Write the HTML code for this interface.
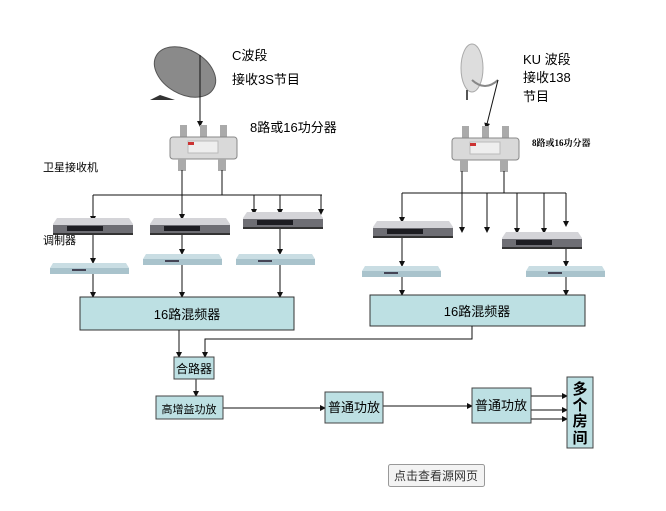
<!DOCTYPE html>
<html><head><meta charset="utf-8"><style>
body{margin:0;background:#fff;}
svg{display:block;font-family:"Liberation Sans","Noto Sans CJK SC",sans-serif;}
</style></head><body>
<svg width="666" height="511" viewBox="0 0 666 511" xmlns="http://www.w3.org/2000/svg">
<defs>
<marker id="a" markerWidth="6" markerHeight="6" refX="5" refY="3" orient="auto" markerUnits="userSpaceOnUse"><path d="M0,0 L6,3 L0,6 z" fill="#111"/></marker>
<g id="rcv">
<path d="M4,0 L76,0 L80,6 L80,16 L0,16 L0,6 z" fill="#d4d4d8"/>
<rect x="0" y="7" width="80" height="8" fill="#6e6e74"/>
<rect x="14" y="8" width="36" height="5" fill="#1d1d22"/>
<rect x="0" y="15" width="80" height="2" fill="#333"/>
</g>
<g id="mod">
<path d="M3,0 L76,0 L79,5 L79,11 L0,11 L0,5 z" fill="#c9dde3"/>
<rect x="0" y="5" width="79" height="6" fill="#a9c3cc"/>
<rect x="22" y="6" width="14" height="2" fill="#445"/>
</g>
<g id="spl">
<rect x="10" y="0" width="7" height="12" fill="#aaa"/><rect x="30" y="0" width="7" height="12" fill="#aaa"/><rect x="50" y="0" width="7" height="12" fill="#aaa"/>
<rect x="0" y="12" width="67" height="22" rx="3" fill="#d9d9d9" stroke="#888"/>
<rect x="18" y="16" width="30" height="12" fill="#eee" stroke="#bbb"/>
<rect x="18" y="17" width="6" height="3" fill="#c33"/>
<rect x="8" y="34" width="8" height="12" fill="#aaa"/><rect x="48" y="34" width="8" height="12" fill="#aaa"/>
</g>
</defs>

<!-- left dish -->
<ellipse cx="185" cy="72" rx="33" ry="22" transform="rotate(30 185 72)" fill="#8a8a8a" stroke="#555"/>
<path d="M160,95 L150,100 L175,100 z" fill="#333"/>
<line x1="200" y1="55" x2="200" y2="126" stroke="#111" marker-end="url(#a)"/>
<use href="#spl" x="170" y="125"/>
<text x="232" y="60" font-size="13">C波段</text>
<text x="232" y="84" font-size="13">接收3S节目</text>
<text x="250" y="132" font-size="13">8路或16功分器</text>
<text x="43" y="171" font-size="11">卫星接收机</text>

<g stroke="#111" fill="none">
<line x1="182" y1="170" x2="182" y2="219" marker-end="url(#a)"/>
<line x1="222" y1="170" x2="222" y2="195"/>
<line x1="93" y1="195" x2="322" y2="195"/>
<line x1="93" y1="195" x2="93" y2="221" marker-end="url(#a)"/>
<line x1="254" y1="195" x2="254" y2="214" marker-end="url(#a)"/>
<line x1="280" y1="195" x2="280" y2="214" marker-end="url(#a)"/>
<line x1="321" y1="195" x2="321" y2="214" marker-end="url(#a)"/>
<line x1="93" y1="232" x2="93" y2="263" marker-end="url(#a)"/>
<line x1="182" y1="230" x2="182" y2="254" marker-end="url(#a)"/>
<line x1="280" y1="226" x2="280" y2="254" marker-end="url(#a)"/>
<line x1="93" y1="274" x2="93" y2="297" marker-end="url(#a)"/>
<line x1="182" y1="265" x2="182" y2="297" marker-end="url(#a)"/>
<line x1="280" y1="265" x2="280" y2="297" marker-end="url(#a)"/>
</g>
<use href="#rcv" x="53" y="218"/>
<use href="#rcv" x="150" y="218"/>
<use href="#rcv" x="243" y="212"/>
<use href="#mod" x="50" y="263"/>
<use href="#mod" x="143" y="254"/>
<use href="#mod" x="236" y="254"/>
<text x="43" y="244" font-size="11">调制器</text>
<rect x="80" y="297" width="214" height="33" fill="#bde0e3" stroke="#333"/>
<text x="187" y="319" font-size="13" text-anchor="middle">16路混频器</text>

<!-- right dish -->
<ellipse cx="472" cy="68" rx="11" ry="24" fill="#ddd" stroke="#aaa"/>
<path d="M472,80 Q485,92 498,80" stroke="#888" fill="none" stroke-width="2"/>
<line x1="467" y1="90" x2="467" y2="100" stroke="#555" stroke-width="2"/>
<line x1="498" y1="80" x2="486" y2="128" stroke="#111" marker-end="url(#a)"/>
<use href="#spl" x="452" y="126"/>
<text x="523" y="64" font-size="13">KU 波段</text>
<text x="523" y="82" font-size="13">接收138</text>
<text x="523" y="101" font-size="13">节目</text>
<text x="532" y="146" font-size="9" font-weight="bold" font-family="Liberation Serif,'Noto Serif CJK SC',serif">8路或16功分器</text>
<g stroke="#111" fill="none">
<line x1="462" y1="171" x2="462" y2="232" marker-end="url(#a)"/>
<line x1="504" y1="171" x2="504" y2="193"/>
<line x1="402" y1="193" x2="566" y2="193"/>
<line x1="402" y1="193" x2="402" y2="222" marker-end="url(#a)"/>
<line x1="487" y1="193" x2="487" y2="232" marker-end="url(#a)"/>
<line x1="517" y1="193" x2="517" y2="233" marker-end="url(#a)"/>
<line x1="544" y1="193" x2="544" y2="233" marker-end="url(#a)"/>
<line x1="566" y1="193" x2="566" y2="226" marker-end="url(#a)"/>
<line x1="402" y1="237" x2="402" y2="266" marker-end="url(#a)"/>
<line x1="566" y1="248" x2="566" y2="266" marker-end="url(#a)"/>
<line x1="402" y1="277" x2="402" y2="295" marker-end="url(#a)"/>
<line x1="566" y1="277" x2="566" y2="295" marker-end="url(#a)"/>
</g>
<use href="#rcv" x="373" y="221"/>
<use href="#rcv" x="502" y="232"/>
<use href="#mod" x="362" y="266"/>
<use href="#mod" x="526" y="266"/>
<rect x="370" y="295" width="215" height="31" fill="#bde0e3" stroke="#333"/>
<text x="477" y="316" font-size="13" text-anchor="middle">16路混频器</text>

<!-- bottom -->
<g stroke="#111" fill="none">
<line x1="179" y1="330" x2="179" y2="357" marker-end="url(#a)"/>
<polyline points="472,326 472,339 205,339 205,357" marker-end="url(#a)"/>
<line x1="196" y1="379" x2="196" y2="396" marker-end="url(#a)"/>
<line x1="223" y1="408" x2="325" y2="408" marker-end="url(#a)"/>
<line x1="383" y1="406" x2="472" y2="406" marker-end="url(#a)"/>
<line x1="531" y1="396" x2="567" y2="396" marker-end="url(#a)"/>
<line x1="531" y1="410" x2="567" y2="410" marker-end="url(#a)"/>
<line x1="531" y1="419" x2="567" y2="419" marker-end="url(#a)"/>
</g>
<g fill="#bde0e3" stroke="#444">
<rect x="174" y="357" width="40" height="22"/>
<rect x="156" y="396" width="67" height="23"/>
<rect x="325" y="392" width="58" height="31"/>
<rect x="472" y="388" width="59" height="35"/>
<rect x="567" y="377" width="26" height="71"/>
</g>
<text x="194" y="373" font-size="12" text-anchor="middle">合路器</text>
<text x="189" y="413" font-size="11" text-anchor="middle">高增益功放</text>
<text x="354" y="412" font-size="13" text-anchor="middle">普通功放</text>
<text x="501" y="410" font-size="13" text-anchor="middle">普通功放</text>
<g font-size="15" font-weight="bold" text-anchor="middle">
<text x="580" y="394">多</text><text x="580" y="410">个</text><text x="580" y="426">房</text><text x="580" y="443">间</text>
</g>
<rect x="388.5" y="464.5" width="96" height="22" rx="2" fill="#f3f3f3" stroke="#999"/>
<text x="436" y="480" font-size="12" text-anchor="middle" fill="#333">点击查看源网页</text>
</svg>
</body></html>
